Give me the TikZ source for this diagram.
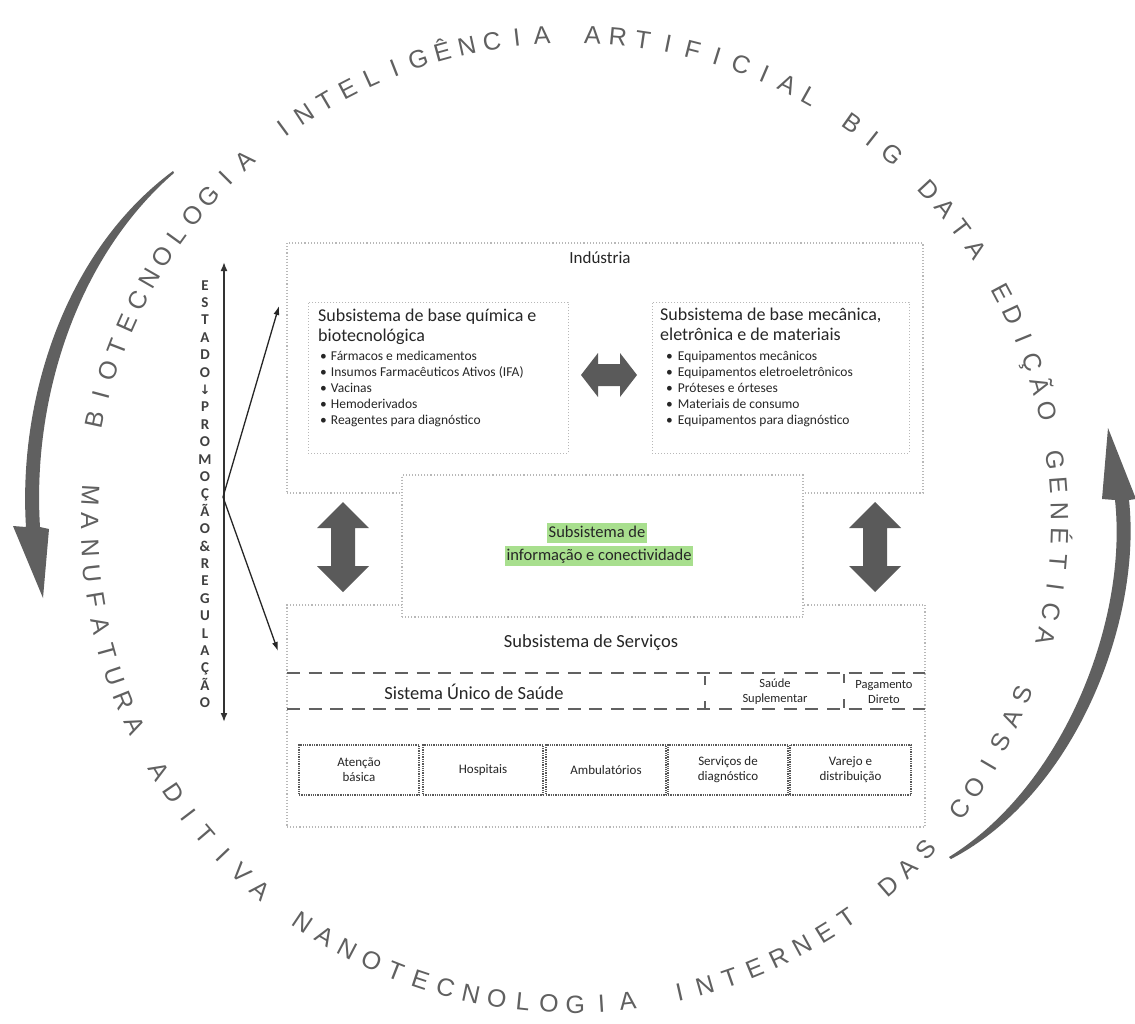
\documentclass[tikz,border=0pt]{standalone}
\usepackage{fontspec}
\setmainfont{Carlito}
\newfontfamily\circfont{Liberation Sans}
\newfontfamily\symfont{DejaVu Sans}
\usetikzlibrary{arrows.meta}
\definecolor{fatc}{HTML}{5A5A5A}
\definecolor{hlc}{HTML}{A8DF8E}
\definecolor{boxc}{HTML}{B8B8B8}
\definecolor{circc}{HTML}{606060}
\definecolor{txtc}{HTML}{262626}
\begin{document}
\begin{tikzpicture}[x=1pt,y=-1pt,
  bigbox/.style={draw=boxc, dotted, line width=1.1pt, inner sep=0pt},
  subbox/.style={draw=boxc, dotted, line width=1pt, inner sep=0pt},
  smallbox/.style={draw=black!65, densely dotted, line width=1.3pt, inner sep=0pt,
     minimum width=120pt, minimum height=50pt, align=center, text=txtc,
     font=\fontsize{13}{15}\selectfont},
  fatarrow/.style={fill=fatc, draw=none},
  arcarrow/.style={fill=circc, draw=none},
  dashline/.style={draw=black!62, line width=2.6pt, dash pattern=on 13pt off 8.6pt},
  vdash/.style={draw=black!62, line width=1.5pt, dash pattern=on 9pt off 16pt},
  thinarr/.style={line width=1.3pt, black!85, -{Latex[length=9pt,width=6pt]}},
  circtop/.style={font=\circfont\fontsize{25}{25}\selectfont, text=circc, inner sep=0pt, anchor=base},
  circbot/.style={font=\circfont\fontsize{25}{25}\selectfont, text=circc, inner sep=0pt, anchor=base},
  estletter/.style={font=\bfseries\fontsize{15}{15}\selectfont, text=black!75, inner sep=0pt, anchor=base},
  hl/.style={fill=hlc, inner xsep=2pt, inner ysep=2pt, text height=12pt, text depth=4pt,
     font=\fontsize{16.5}{18}\selectfont, text=txtc},
  btxt/.style={inner sep=0pt, text=txtc},
]
\useasboundingbox (0,0) rectangle (1135,1023);
\fill[white] (0,0) rectangle (1135,1023);

% ---------------- circular text ----------------
\foreach \ch [count=\i from 0] in {B,I,O,T,E,C,N,O,L,O,G,I,A,{},I,N,T,E,L,I,G,Ê,N,C,I,A,{},A,R,T,I,F,I,C,I,A,L,{},B,I,G,{},D,A,T,A,{},E,D,I,Ç,Ã,O,{},G,E,N,É,T,I,C,A}{
  \pgfmathsetmacro\ang{167.9-\i*2.975}
  \node[circtop, rotate=\ang-90] (t\i) at ({572+479*cos(\ang)},{522-479*sin(\ang)}) {\ch};
}
\foreach \ch [count=\i from 0] in {M,A,N,U,F,A,T,U,R,A,{},A,D,I,T,I,V,A,{},N,A,N,O,T,E,C,N,O,L,O,G,I,A,{},I,N,T,E,R,N,E,T,{},D,A,S,{},C,O,I,S,A,S}{
  \pgfmathsetmacro\ang{176.8+\i*3.12}
  \node[circbot, rotate=\ang+90] (b\i) at ({572+491*cos(\ang)},{522-491*sin(\ang)}) {\ch};
}

% ---------------- curved arrows ----------------
\fill[arcarrow] (173,171) .. controls (64,252) and (18,400) .. (26,527)
   -- (13,526) -- (43,598) -- (49,529) -- (40,527)
   .. controls (32,400) and (76,258) .. (174,173) -- cycle;
\fill[arcarrow] (949,857) .. controls (1064,786) and (1128,620) .. (1115,500)
   -- (1102,499) -- (1108,428) -- (1136,499) -- (1129,500)
   .. controls (1142,620) and (1076,794) .. (951,859) -- cycle;

% ---------------- boxes ----------------
\node[bigbox, minimum width=636pt, minimum height=250pt] (ind) at (605,368) {};
\node[bigbox, minimum width=638pt, minimum height=222pt] (serv) at (606,716) {};
\node[subbox, minimum width=260pt, minimum height=151pt] (quim) at (438,377.5) {};
\node[subbox, minimum width=257pt, minimum height=151pt] (mec) at (780.5,377.5) {};
\node[bigbox, fill=white, minimum width=401pt, minimum height=142pt] (info) at (602.5,546) {};

% Indústria texts
\node[btxt, font=\fontsize{17}{20}\selectfont] (indt) at (600,258) {Indústria};
\node[btxt, anchor=north west, align=left, font=\fontsize{18}{20}\selectfont] (quimt) at (318,309)
  {Subsistema de base química e\\biotecnológica};
\node[btxt, anchor=north west, align=left, font=\fontsize{13.5}{16}\selectfont] (quiml) at (320,351)
  {•\hspace{4pt}Fármacos e medicamentos\\
   •\hspace{4pt}Insumos Farmacêuticos Ativos (IFA)\\
   •\hspace{4pt}Vacinas\\
   •\hspace{4pt}Hemoderivados\\
   •\hspace{4pt}Reagentes para diagnóstico};
\node[btxt, anchor=north west, align=left, font=\fontsize{18}{20}\selectfont] (mect) at (660,308)
  {Subsistema de base mecânica,\\eletrônica e de materiais};
\node[btxt, anchor=north west, align=left, font=\fontsize{13.5}{16}\selectfont] (mecl) at (666,351)
  {•\hspace{5pt}Equipamentos mecânicos\\
   •\hspace{5pt}Equipamentos eletroeletrônicos\\
   •\hspace{5pt}Próteses e órteses\\
   •\hspace{5pt}Materiais de consumo\\
   •\hspace{5pt}Equipamentos para diagnóstico};

% information subsystem
\node[hl] (inf1) at (597,533) {Subsistema de};
\node[hl] (inf2) at (599,556) {informação e conectividade};

% services
\node[btxt, font=\fontsize{18.5}{22}\selectfont] (servt) at (591,643) {Subsistema de Serviços};
\draw[dashline] (287,673) -- (925,673);
\draw[dashline] (287,709) -- (925,709);
\draw[vdash] (705,676) -- (705,709);
\draw[vdash] (844,674) -- (844,709);
\node[btxt, font=\fontsize{18.5}{22}\selectfont] (sus) at (474,692) {Sistema Único de Saúde};
\node[btxt, align=center, font=\fontsize{12.5}{15}\selectfont] (supl) at (775,692) {Saúde\\Suplementar};
\node[btxt, align=center, font=\fontsize{12.5}{15}\selectfont] (pag) at (884,692) {Pagamento\\Direto};

\node[smallbox] (s1) at (359,770) {Atenção\\básica};
\node[smallbox] (s2) at (483,770) {Hospitais};
\node[smallbox] (s3) at (606,770) {Ambulatórios};
\node[smallbox] (s4) at (728,770) {Serviços de\\diagnóstico};
\node[smallbox, minimum width=121pt] (s5) at (850.5,770) {Varejo e\\distribuição};

% ---------------- fat double arrows ----------------
\fill[fatarrow] (581,375) -- (598,353) -- (598,364) -- (620,364) -- (620,353) -- (637,375)
  -- (620,397) -- (620,386) -- (598,386) -- (598,397) -- cycle;
\fill[fatarrow] (343,502) -- (369,528) -- (355,528) -- (355,566) -- (369,566) -- (343,592)
  -- (317,566) -- (331,566) -- (331,528) -- (317,528) -- cycle;
\fill[fatarrow] (875,502) -- (901,528) -- (887,528) -- (887,566) -- (901,566) -- (875,592)
  -- (849,566) -- (863,566) -- (863,528) -- (849,528) -- cycle;

% ---------------- Estado line ----------------
\coordinate (estTop) at (224,262);
\coordinate (estBot) at (224,722);
\coordinate (junc) at (223,497);
\coordinate (tipUp) at (279,306);
\coordinate (tipDown) at (278,651);
\draw[line width=1.7pt, black!80, {Latex[length=9pt,width=7pt]}-{Latex[length=9pt,width=7pt]}] (estTop) -- (estBot);
\draw[thinarr] (junc) -- (tipUp);
\draw[thinarr] (junc) -- (tipDown);
\foreach \ch [count=\i from 0] in {E,S,T,A,D,O,{\symfont\fontsize{13}{13}\selectfont ↓},P,R,O,M,O,Ç,Ã,O,\&,R,E,G,U,L,A,Ç,Ã,O}{
  \node[estletter] (e\i) at (205,{290+\i*17.4}) {\ch};
}
\end{tikzpicture}
\end{document}
